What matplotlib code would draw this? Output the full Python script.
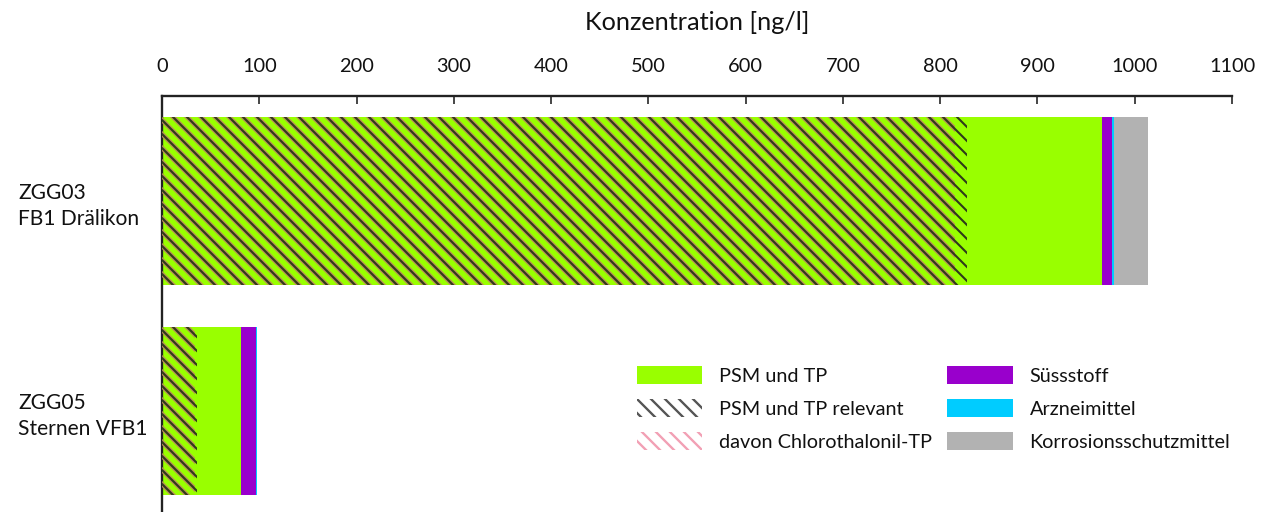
import matplotlib
matplotlib.use("Agg")
import matplotlib.pyplot as plt
from matplotlib.patches import Patch
import numpy as np

plt.rcParams['font.family'] = ['Lato', 'DejaVu Sans']

# data (ng/l)
stations = ["ZGG03\nFB1 Drälikon", "ZGG05\nSternen VFB1"]
psm_tp = [966, 81]             # PSM und TP (total)
psm_relevant = [828, 36]       # PSM und TP relevant (part of total)
chlorothalonil = [815, 34]     # davon Chlorothalonil-TP
suessstoff = [11, 16]
arzneimittel = [1.2, 0.4]
korrosion = [35, 0]

c_green = "#99FF00"
c_purple = "#9900CC"
c_cyan = "#00CCFF"
c_gray = "#B2B2B2"
c_dark = "#2E3A1A"
c_pink_bar = "#B88A58"
c_pink = "#F2A0B4"
c_dark_leg = "#555555"

HATCH = "\\\\\\\\"

DPI = 168
fig = plt.figure(figsize=(1277 / DPI, 512 / DPI), dpi=DPI)
ax = fig.add_axes([162 / 1277, 0, 1070 / 1277, 416 / 512])

y = np.arange(len(stations))
h = 0.8


def hatch_bar(vals, color, lw):
    bars = ax.barh(y, vals, height=h, facecolor="none", edgecolor=color,
                   linewidth=0, hatch=HATCH, zorder=3)
    for b in bars:
        if hasattr(b, "set_hatch_linewidth"):
            b.set_hatch_linewidth(lw)
    return bars


ax.barh(y, psm_tp, height=h, color=c_green, linewidth=0, zorder=2)
with plt.rc_context({"hatch.linewidth": 1.9}):
    hatch_bar(chlorothalonil, c_pink_bar, 1.9)
with plt.rc_context({"hatch.linewidth": 0.9}):
    hatch_bar(psm_relevant, c_dark, 0.9)

left = np.array(psm_tp, dtype=float)
for vals, col in [(suessstoff, c_purple), (arzneimittel, c_cyan), (korrosion, c_gray)]:
    ax.barh(y, vals, left=left, height=h, color=col, linewidth=0, zorder=2)
    left += np.array(vals)

ax.set_xlim(0, 1100)
ax.set_ylim(-0.5 + 416 / 210, -0.5)
ax.set_xticks(np.arange(0, 1101, 100))
ax.xaxis.tick_top()
ax.xaxis.set_label_position("top")
ax.tick_params(axis="x", direction="in", length=3.4, width=0.7, color="#222222",
               labelsize=8.6, pad=9, labelcolor="#111111")
ax.set_xlabel("Konzentration [ng/l]", fontsize=10.8, labelpad=12, color="#111111")

ax.set_yticks(y)
ax.set_yticklabels(stations, fontsize=9, color="#111111", linespacing=1.35)
ax.tick_params(axis="y", length=0, pad=(162 - 18) / DPI * 72)
for t in ax.get_yticklabels():
    t.set_horizontalalignment("left")
    t.set_multialignment("left")

for s in ["right", "bottom"]:
    ax.spines[s].set_visible(False)
for s in ["top", "left"]:
    ax.spines[s].set_linewidth(1.0)
    ax.spines[s].set_color("#222222")

with plt.rc_context({"hatch.linewidth": 1.0}):
    handles = [
        Patch(facecolor=c_green, edgecolor="none", label="PSM und TP"),
        Patch(facecolor="white", edgecolor=c_dark_leg, linewidth=0, hatch=HATCH,
              label="PSM und TP relevant"),
        Patch(facecolor="white", edgecolor=c_pink, linewidth=0, hatch=HATCH,
              label="davon Chlorothalonil-TP"),
        Patch(facecolor=c_purple, edgecolor="none", label="Süssstoff"),
        Patch(facecolor=c_cyan, edgecolor="none", label="Arzneimittel"),
        Patch(facecolor=c_gray, edgecolor="none", label="Korrosionsschutzmittel"),
    ]
    leg = fig.legend(handles=handles, ncol=2, loc="upper left",
                     bbox_to_anchor=(637 / 1277, 1 - 366 / 512), frameon=False,
                     fontsize=8.5, handlelength=3.3, handleheight=1.0,
                     handletextpad=0.85, columnspacing=0.75, labelspacing=0.72,
                     borderpad=0, borderaxespad=0)
for t in leg.get_texts():
    t.set_color("#111111")

fig.savefig("out.png", dpi=DPI)
